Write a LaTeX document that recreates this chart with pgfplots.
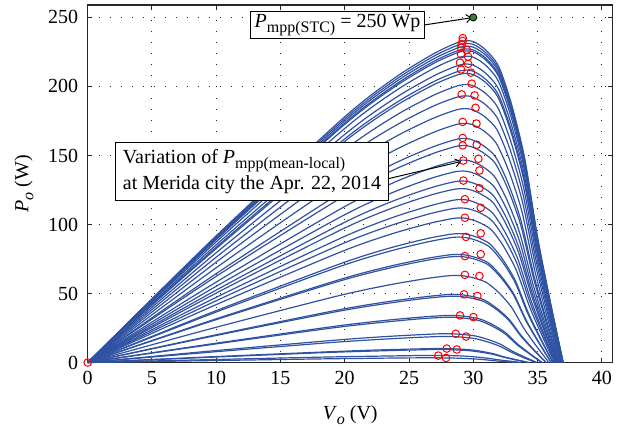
\documentclass[border=0pt]{standalone}
\usepackage{fontspec}
\setmainfont{Liberation Serif}
\usepackage{pgfplots}
\pgfplotsset{compat=1.18}
\usetikzlibrary{arrows.meta}
\definecolor{pvblue}{RGB}{47,82,162}
\definecolor{mgreen}{RGB}{50,130,40}
\newcommand{\bigf}{\fontsize{20}{24}\selectfont}
\newcommand{\sub}[1]{\raisebox{-0.25em}{\fontsize{16}{16}\selectfont #1}}
\pgfplotsset{pv/.style={color=pvblue, line width=1.2pt, smooth, tension=0.45}}
\begin{document}
\bigf
\begin{tikzpicture}
\useasboundingbox (-87.7pt,-63.5pt) rectangle (535.3pt,362.5pt);
\begin{axis}[
  scale only axis, width=525pt, height=357.5pt,
  xmin=0, xmax=40.85, ymin=0, ymax=259,
  xtick={0,5,...,40}, ytick={0,50,...,250},
  clip=false,
  axis line style={line width=1.2pt, draw=black!85},
  every tick/.style={line width=1pt, black!85},
  major tick length=4.5pt,
  tick align=inside,
  grid=major,
  major grid style={draw=black!85, line width=1pt, dash pattern=on 1pt off 10pt},
  tick label style={font=\bigf},
  xticklabel style={yshift=-2.3pt},
  yticklabel style={xshift=-2.7pt},
  /pgf/number format/assume math mode=true,
  label style={font=\bigf},
  xlabel={\textit{V}\sub{\textit{o}} (V)},
  ylabel={\textit{P}\sub{\textit{o}} (W)},
  every axis x label/.style={at={(axis description cs:0.5,-0.146)},anchor=center},
  every axis y label/.style={at={(axis description cs:-0.1213,0.5)},rotate=90,anchor=center},
]
\addplot[pv] coordinates {(0,0)(10,91.8)(20,178.0)(24,206.9)(27,224.1)(29,232.5)(30,232.5)(31,226.2)(32,214.1)(33,186.4)(34,148.0)(35,91.1)(36,43.8)(37,0)};
\addplot[pv] coordinates {(0,0)(10,91.0)(20,176.5)(23.99,205.1)(26.99,222.2)(28.99,230.5)(29.99,230.5)(30.99,224.3)(31.99,212.3)(32.99,184.8)(33.99,146.7)(34.99,90.3)(35.99,43.4)(36.99,0)};
\addplot[pv] coordinates {(0,0)(10,90.2)(20,175.0)(23.99,203.4)(26.99,220.3)(28.99,228.5)(29.99,228.5)(30.99,222.4)(31.99,210.5)(32.99,183.2)(33.99,145.4)(34.99,89.5)(35.99,43.1)(36.99,0)};
\addplot[pv] coordinates {(0,0)(9.99,89.4)(19.99,173.4)(23.99,201.6)(26.98,218.4)(28.98,226.5)(29.98,226.5)(30.98,220.4)(31.98,208.6)(32.98,181.6)(33.98,144.1)(34.98,88.8)(35.98,42.7)(36.98,0)};
\addplot[pv] coordinates {(0,0)(9.99,88.9)(19.98,172.4)(23.98,200.3)(26.98,217.0)(28.98,225.1)(29.98,225.1)(30.98,219.1)(31.97,207.3)(32.97,180.5)(33.97,143.3)(34.97,88.2)(35.97,42.4)(36.97,0)};
\addplot[pv] coordinates {(0,0)(9.99,87.3)(19.98,169.4)(23.97,196.9)(26.97,213.3)(28.97,221.3)(29.97,221.3)(30.97,215.3)(31.96,203.7)(32.96,177.4)(33.96,140.8)(34.96,86.7)(35.96,41.7)(36.96,0)};
\addplot[pv] coordinates {(0,0)(9.98,85.1)(19.97,165.0)(23.96,191.8)(26.96,207.8)(28.95,215.6)(29.95,215.6)(30.95,209.7)(31.95,198.5)(32.95,172.8)(33.95,137.2)(34.94,84.5)(35.94,40.6)(36.94,0)};
\addplot[pv] coordinates {(0,0)(9.98,83.4)(19.96,161.7)(23.95,187.9)(26.94,203.6)(28.94,211.2)(29.93,211.2)(30.93,205.5)(31.93,194.5)(32.93,169.3)(33.93,134.4)(34.92,82.7)(35.92,39.8)(36.92,0)};
\addplot[pv] coordinates {(0,0)(9.98,82.4)(19.95,159.8)(23.94,185.8)(26.94,201.3)(28.93,208.8)(29.93,208.8)(30.93,203.1)(31.92,192.3)(32.92,167.4)(33.92,132.8)(34.92,81.8)(35.91,39.3)(36.91,0)};
\addplot[pv] coordinates {(0,0)(9.97,79.3)(19.94,153.7)(23.92,178.7)(26.91,193.6)(28.91,200.8)(29.90,200.8)(30.90,195.4)(31.90,184.9)(32.89,161.0)(33.89,127.8)(34.89,78.7)(35.88,37.8)(36.88,0)};
\addplot[pv] coordinates {(0,0)(9.96,76.0)(19.91,147.5)(23.90,171.4)(26.88,185.7)(28.88,192.6)(29.87,192.6)(30.87,187.4)(31.86,177.4)(32.86,154.4)(33.85,122.6)(34.85,75.5)(35.85,36.3)(36.84,0)};
\addplot[pv] coordinates {(0,0)(9.95,72.4)(19.89,140.4)(23.87,163.2)(26.85,176.8)(28.84,183.4)(29.84,183.4)(30.83,178.5)(31.83,168.9)(32.82,147.0)(33.82,116.7)(34.81,71.9)(35.81,34.6)(36.80,0)};
\addplot[pv] coordinates {(0,0)(9.93,68.2)(19.86,132.2)(23.84,153.6)(26.82,166.4)(28.80,172.7)(29.80,172.7)(30.79,168.0)(31.78,159.0)(32.78,138.4)(33.77,109.9)(34.76,67.6)(35.76,32.5)(36.75,0)};
\addplot[pv] coordinates {(0,0)(9.92,63.9)(19.83,123.8)(23.80,143.9)(26.77,155.9)(28.76,161.8)(29.75,161.8)(30.74,157.4)(31.73,149.0)(32.72,129.7)(33.71,102.9)(34.71,63.4)(35.70,30.5)(36.69,0)};
\addplot[pv] coordinates {(0,0)(9.91,61.9)(19.82,119.9)(23.78,139.4)(26.75,151.0)(28.73,156.7)(29.72,156.7)(30.71,152.4)(31.71,144.3)(32.70,125.6)(33.69,99.7)(34.68,61.4)(35.67,29.5)(36.66,0)};
\addplot[pv] coordinates {(0,0)(9.90,57.7)(19.79,111.9)(23.75,130.1)(26.72,140.9)(28.70,146.2)(29.69,146.2)(30.67,142.3)(31.66,134.6)(32.65,117.2)(33.64,93.0)(34.63,57.3)(35.62,27.5)(36.61,0)};
\addplot[pv] coordinates {(0,0)(9.88,54.6)(19.76,105.9)(23.71,123.1)(26.68,133.3)(28.65,138.3)(29.64,138.3)(30.63,134.6)(31.62,127.4)(32.61,110.9)(33.60,88.0)(34.58,54.2)(35.57,26.1)(36.56,0)};
\addplot[pv] coordinates {(0,0)(9.87,51.8)(19.74,100.4)(23.68,116.7)(26.64,126.4)(28.62,131.1)(29.60,131.1)(30.59,127.6)(31.58,120.8)(32.56,105.1)(33.55,83.4)(34.54,51.4)(35.52,24.7)(36.51,0)};
\addplot[pv] coordinates {(0,0)(9.86,49.6)(19.72,96.2)(23.66,111.8)(26.62,121.1)(28.59,125.6)(29.58,125.6)(30.56,122.2)(31.55,115.7)(32.53,100.7)(33.52,79.9)(34.51,49.2)(35.49,23.7)(36.48,0)};
\addplot[pv] coordinates {(0,0)(9.84,46.5)(19.69,90.1)(23.62,104.7)(26.58,113.4)(28.54,117.7)(29.53,117.7)(30.51,114.5)(31.50,108.4)(32.48,94.3)(33.47,74.9)(34.45,46.1)(35.43,22.2)(36.42,0)};
\addplot[pv] coordinates {(0,0)(9.83,44.0)(19.66,85.4)(23.60,99.3)(26.55,107.6)(28.51,111.6)(29.50,111.6)(30.48,108.6)(31.46,102.7)(32.45,89.4)(33.43,71.0)(34.41,43.7)(35.40,21.0)(36.38,0)};
\addplot[pv] coordinates {(0,0)(9.82,41.2)(19.63,79.9)(23.56,92.9)(26.50,100.6)(28.47,104.4)(29.45,104.4)(30.43,101.6)(31.41,96.1)(32.39,83.7)(33.37,66.4)(34.36,40.9)(35.34,19.7)(36.32,0)};
\addplot[pv] coordinates {(0,0)(9.79,36.8)(19.58,71.3)(23.49,82.9)(26.43,89.8)(28.39,93.1)(29.37,93.1)(30.35,90.6)(31.32,85.7)(32.30,74.6)(33.28,59.2)(34.26,36.5)(35.24,17.5)(36.22,0)};
\addplot[pv] coordinates {(0,0)(9.78,35.8)(19.57,69.4)(23.48,80.6)(26.42,87.3)(28.37,90.6)(29.35,90.6)(30.33,88.2)(31.31,83.4)(32.29,72.6)(33.27,57.7)(34.24,35.5)(35.22,17.1)(36.20,0)};
\addplot[pv] coordinates {(0,0)(9.75,30.9)(19.50,59.8)(23.40,69.5)(26.32,75.3)(28.27,78.1)(29.25,78.1)(30.22,76.0)(31.20,72.0)(32.17,62.6)(33.15,49.7)(34.12,30.6)(35.10,14.7)(36.07,0)};
\addplot[pv] coordinates {(0,0)(9.75,30.3)(19.49,58.7)(23.39,68.2)(26.31,73.9)(28.26,76.6)(29.24,76.6)(30.21,74.6)(31.19,70.6)(32.16,61.4)(33.14,48.8)(34.11,30.0)(35.09,14.4)(36.06,0)};
\addplot[pv] coordinates {(0,0)(9.70,24.8)(19.40,48.1)(23.28,55.9)(26.19,60.6)(28.13,62.9)(29.10,62.9)(30.07,61.2)(31.04,57.9)(32.01,50.4)(32.98,40.0)(33.95,24.6)(34.92,11.8)(35.89,0)};
\addplot[pv] coordinates {(0,0)(9.64,19.4)(19.29,37.7)(23.14,43.8)(26.04,47.4)(27.96,49.2)(28.93,49.2)(29.89,47.9)(30.86,45.3)(31.82,39.4)(32.79,31.3)(33.75,19.3)(34.71,9.3)(35.68,0)};
\addplot[pv] coordinates {(0,0)(9.64,18.9)(19.28,36.7)(23.13,42.6)(26.02,46.2)(27.95,47.9)(28.91,47.9)(29.88,46.6)(30.84,44.1)(31.81,38.4)(32.77,30.5)(33.73,18.8)(34.70,9.0)(35.66,0)};
\addplot[pv] coordinates {(0,0)(9.56,13.4)(19.12,26.1)(22.94,30.3)(25.81,32.8)(27.72,34.0)(28.68,34.0)(29.63,33.1)(30.59,31.3)(31.54,27.3)(32.50,21.7)(33.46,13.3)(34.41,6.4)(35.37,0)};
\addplot[pv] coordinates {(0,0)(9.55,12.9)(19.10,25.1)(22.92,29.1)(25.78,31.6)(27.69,32.7)(28.65,32.7)(29.60,31.8)(30.56,30.1)(31.51,26.2)(32.47,20.8)(33.42,12.8)(34.38,6.2)(35.33,0)};
\addplot[pv] coordinates {(0,0)(9.45,8.2)(18.89,15.9)(22.67,18.5)(25.50,20.0)(27.39,20.8)(28.34,20.8)(29.28,20.2)(30.23,19.1)(31.17,16.6)(32.12,13.2)(33.06,8.1)(34.01,3.9)(34.95,0)};
\addplot[pv] coordinates {(0,0)(9.42,7.4)(18.84,14.4)(22.61,16.7)(25.44,18.1)(27.32,18.8)(28.27,18.8)(29.21,18.3)(30.15,17.3)(31.09,15.0)(32.03,11.9)(32.98,7.4)(33.92,3.5)(34.86,0)};
\addplot[pv] coordinates {(0,0)(9.28,4.0)(18.56,7.7)(22.27,9.0)(25.05,9.7)(26.91,10.1)(27.83,10.1)(28.76,9.8)(29.69,9.3)(30.62,8.1)(31.55,6.4)(32.47,3.9)(33.40,1.9)(34.33,0)};
\addplot[pv] coordinates {(0,0)(9.26,3.7)(18.52,7.2)(22.23,8.3)(25.01,9.0)(26.86,9.4)(27.79,9.4)(28.71,9.1)(29.64,8.6)(30.56,7.5)(31.49,6.0)(32.42,3.7)(33.34,1.8)(34.27,0)};
\addplot[pv] coordinates {(0,0)(9.12,2.0)(18.24,3.9)(21.89,4.5)(24.63,4.9)(26.45,5.1)(27.37,5.1)(28.28,5.0)(29.19,4.7)(30.10,4.1)(31.01,3.2)(31.93,2.0)(32.84,1.0)(33.75,0)};
\addplot[pv] coordinates {(0,0)(9.03,1.3)(18.06,2.6)(21.67,3.0)(24.38,3.3)(26.19,3.4)(27.09,3.4)(27.99,3.3)(28.90,3.1)(29.80,2.7)(30.70,2.2)(31.61,1.3)(32.51,0.6)(33.41,0)};
% MPP markers
\addplot[only marks, mark=o, mark size=3.8pt, color=red, line width=1pt] coordinates {
(0,0)
(29.18,235)(29.18,233)(29.1,230.5)(29.05,228)(29.5,226.5)(29.05,223.3)(29.6,221.5)(28.97,217.2)(29.6,216.4)(29.05,212.3)(29.82,210)(29.88,202)(29.1,194.2)(30.1,193.5)(30.18,184.5)(29.18,174.3)(30.25,173.1)(29.18,162.7)(29.18,157.3)(30.27,157.8)
(29.23,146.3)(29.23,131.8)(29.35,118.3)(29.35,104.9)(29.44,91.0)(29.35,77.1)(29.35,63.5)(29.28,49.4)(28.97,34.1)(28.64,20.8)(27.94,10.1)(27.28,5.0)
(30.4,147.6)(30.48,139.1)(30.48,126.3)(30.58,112.1)(30.58,93.6)(30.58,78.5)(30.48,62.7)(30.32,48.2)(30.01,32.9)(29.44,18.8)(28.72,9.4)(27.88,3.3)
};
\addplot[only marks, mark=*, mark size=3.6pt, mark options={fill=mgreen, draw=black, line width=0.8pt}] coordinates {(30,250)};
\node[draw=black, line width=1pt, fill=white, minimum width=173.6pt, minimum height=27.3pt, inner sep=1pt, font=\bigf] (b1) at (axis cs:19.44,244.6) {\textit{P}\sub{mpp(STC)} = 250 Wp};
\draw[line width=1pt, -{Straight Barb[length=5pt,width=8pt]}] (b1.east) -- (axis cs:29.9,249.8);
\node[draw=black, line width=1pt, fill=white, minimum width=272.6pt, minimum height=58pt, inner sep=2pt, align=left, font=\fontsize{20}{26}\selectfont] (b2) at (axis cs:12.79,138.2) {Variation of \textit{P}\sub{mpp(mean-local)}\\at Merida city the Apr. 22, 2014};
\draw[line width=1pt, -{Straight Barb[length=5pt,width=8pt]}] ([yshift=-6.8pt]b2.east) -- (axis cs:29.05,145.6);
\end{axis}
\end{tikzpicture}
\end{document}
